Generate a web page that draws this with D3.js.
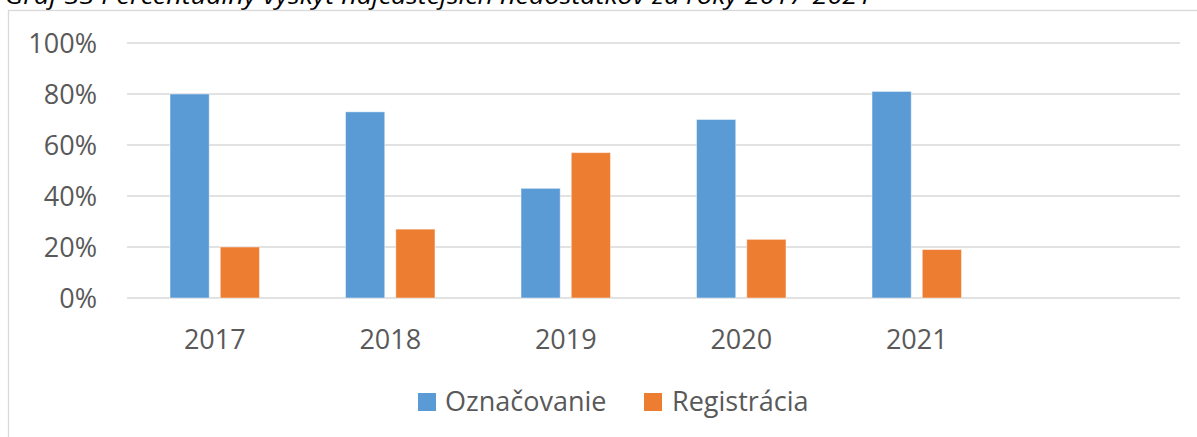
<!DOCTYPE html>
<html>
<head>
<meta charset="utf-8">
<script src="https://cdn.jsdelivr.net/npm/d3@7/dist/d3.min.js"></script>
<style>
  html, body { margin: 0; padding: 0; background: #fff; }
  svg { display: block; }
</style>
</head>
<body>
<svg id="chart" width="1197" height="437"></svg>
<script>
// Categories (the last slot is an empty category on the axis)
const years = ["2017", "2018", "2019", "2020", "2021", ""];
const seriesNames = ["Označovanie", "Registrácia"];
const oznacovanie = [0.80, 0.73, 0.43, 0.70, 0.81];
const registracia = [0.20, 0.27, 0.57, 0.23, 0.19];
const yTicks = [0, 0.2, 0.4, 0.6, 0.8, 1.0];
const colors = ["#5B9BD5", "#ED7D31"];
const titleText = "Graf 33 Percentuálny výskyt najčastejších nedostatkov za roky 2017-2021";

const svg = d3.select("#chart");
const font = "'Open Sans', 'Liberation Sans', sans-serif";

// Caption above the chart frame (clipped at the top edge)
svg.append("text")
  .attr("x", 5).attr("y", 4)
  .attr("font-family", font)
  .attr("font-style", "italic")
  .attr("font-size", 23)
  .attr("fill", "#000")
  .attr("textLength", 867)
  .attr("lengthAdjust", "spacingAndGlyphs")
  .text(titleText);

// Chart frame
svg.append("rect")
  .attr("x", 8.5).attr("y", 10.5)
  .attr("width", 1200).attr("height", 440)
  .attr("fill", "#fff")
  .attr("stroke", "#d9d9d9")
  .attr("stroke-width", 1.3);

const x0 = d3.scaleBand().domain(years).range([127, 1180]).padding(0);
const x1 = d3.scaleBand().domain(seriesNames)
  .range([0, x0.bandwidth()])
  .paddingInner(0.22)
  .paddingOuter(0.856);
const y = d3.scaleLinear().domain([0, 1]).range([298, 43]);

// Horizontal gridlines
svg.append("g")
  .selectAll("line")
  .data(yTicks)
  .join("line")
  .attr("x1", 127).attr("x2", 1180)
  .attr("y1", d => y(d)).attr("y2", d => y(d))
  .attr("stroke", "#d9d9d9")
  .attr("stroke-width", 1.5);

// Y axis labels
const yAxis = d3.axisLeft(y).tickValues(yTicks).tickFormat(d3.format(".0%")).tickSize(0).tickPadding(0);
const yg = svg.append("g").attr("transform", "translate(97,0)").call(yAxis);
yg.select(".domain").remove();
yg.selectAll("text")
  .attr("font-family", font)
  .attr("font-size", 27)
  .attr("fill", "#595959")
  .attr("dy", "0.35em");

// Bars
const rows = years.slice(0, 5).map((yr, i) => ({ yr, vals: [oznacovanie[i], registracia[i]] }));
const groups = svg.append("g")
  .selectAll("g")
  .data(rows)
  .join("g")
  .attr("transform", d => `translate(${x0(d.yr)},0)`);

groups.selectAll("rect")
  .data(d => d.vals.map((v, k) => ({ v, name: seriesNames[k], k })))
  .join("rect")
  .attr("x", d => x1(d.name))
  .attr("width", x1.bandwidth())
  .attr("y", d => y(d.v))
  .attr("height", d => y(0) - y(d.v))
  .attr("fill", d => colors[d.k])
  .attr("stroke", "#ffffff")
  .attr("stroke-opacity", 0.45)
  .attr("stroke-width", 1);

// X axis labels
const xAxis = d3.axisBottom(x0).tickSize(0).tickPadding(0);
const xg = svg.append("g").attr("transform", "translate(0,349)").call(xAxis);
xg.select(".domain").remove();
xg.selectAll("text")
  .attr("font-family", font)
  .attr("font-size", 27)
  .attr("fill", "#595959")
  .attr("dy", 0);

// Legend
const legendItems = [
  { name: seriesNames[0], color: colors[0], sx: 418, tx: 445 },
  { name: seriesNames[1], color: colors[1], sx: 644, tx: 672 }
];
const lg = svg.append("g");
lg.selectAll("rect")
  .data(legendItems)
  .join("rect")
  .attr("x", d => d.sx).attr("y", 393)
  .attr("width", 18).attr("height", 18)
  .attr("fill", d => d.color);
lg.selectAll("text")
  .data(legendItems)
  .join("text")
  .attr("x", d => d.tx).attr("y", 402)
  .attr("dy", "0.35em")
  .attr("font-family", font)
  .attr("font-size", 27)
  .attr("fill", "#595959")
  .text(d => d.name);
</script>
</body>
</html>
